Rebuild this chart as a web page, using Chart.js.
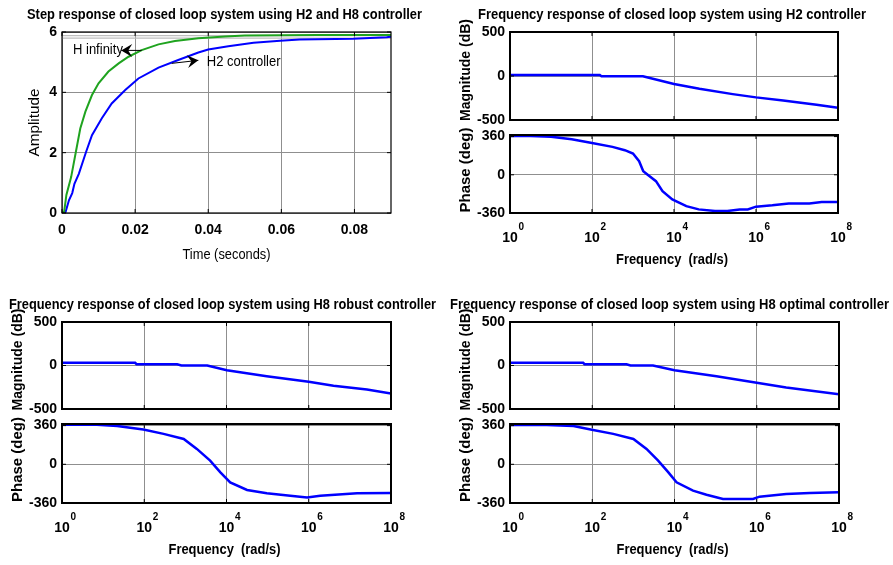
<!DOCTYPE html>
<html>
<head>
<meta charset="utf-8">
<script src="https://cdn.jsdelivr.net/npm/chart.js@4"></script>
<style>
  body { margin: 0; background: #fff; }
  #wrap { position: relative; width: 893px; height: 565px; }
  #wrap canvas { position: absolute; left: 0; top: 0; }
</style>
</head>
<body>
<div id="wrap">
  <canvas id="step" width="893" height="565"></canvas>
  <canvas id="h2Mag" width="893" height="565"></canvas>
  <canvas id="h2Ph" width="893" height="565"></canvas>
  <canvas id="rbMag" width="893" height="565"></canvas>
  <canvas id="rbPh" width="893" height="565"></canvas>
  <canvas id="opMag" width="893" height="565"></canvas>
  <canvas id="opPh" width="893" height="565"></canvas>
</div>
<script>
// step response data
var hinfT = [0, 0.0006, 0.0012, 0.0025, 0.0038, 0.005, 0.0064, 0.0082, 0.01, 0.0127, 0.0155, 0.0182, 0.0218, 0.0264, 0.0309, 0.0373, 0.0446, 0.05, 0.06, 0.07, 0.08, 0.09];
var hinfA = [0, 0.05, 0.6, 1.19, 2.03, 2.8, 3.36, 3.91, 4.3, 4.69, 4.96, 5.18, 5.4, 5.59, 5.7, 5.79, 5.85, 5.88, 5.89, 5.9, 5.9, 5.9];
var h2T = [0, 0.0009, 0.0019, 0.0028, 0.0034, 0.0046, 0.0066, 0.0082, 0.0109, 0.0136, 0.0173, 0.0209, 0.0264, 0.0318, 0.0373, 0.04, 0.0455, 0.0524, 0.0597, 0.065, 0.0797, 0.0888, 0.09];
var h2A = [0, 0, 0.42, 0.66, 0.97, 1.3, 2.03, 2.58, 3.14, 3.63, 4.08, 4.46, 4.82, 5.07, 5.32, 5.42, 5.53, 5.64, 5.71, 5.75, 5.78, 5.83, 5.84];
var steadyLevels = [5.88, 5.8];
var stepXTicks = [0, 0.02, 0.04, 0.06, 0.08];
var stepXLabels = ['0', '0.02', '0.04', '0.06', '0.08'];
var stepYTicks = [0, 2, 4, 6];

// bode data, H2
var h2MagFreq = [1, 155, 170, 1740, 10000, 41700, 270000, 1e6, 4.6e6, 3e7, 1e8];
var h2MagDb = [11, 11, -3, -3, -90, -145, -206, -243, -279, -326, -362];
var h2PhFreq = [1, 3.2, 10, 32, 100, 316, 631, 1000, 1410, 1780, 2240, 3630, 5250, 9100, 2e4, 4e4, 1e5, 2e5, 4e5, 6.3e5, 1e6, 2.5e6, 6.3e6, 2e7, 4e7, 1e8];
var h2PhDeg = [366, 366, 358, 335, 300, 263, 232, 200, 128, 34, 3, -60, -154, -232, -295, -326, -342, -342, -326, -326, -300, -288, -270, -270, -257, -257];

// H8 robust
var rbMagFreq = [1, 60, 65, 630, 800, 3400, 10200, 95000, 1e6, 4e6, 2.6e7, 1e8];
var rbMagDb = [31, 31, 15, 15, 0, 0, -54, -123, -188, -234, -276, -322];
var rbPhFreq = [1, 7, 22, 95, 295, 912, 1900, 4000, 7100, 12300, 31600, 95500, 355000, 912000, 1.9e6, 1.5e7, 1e8];
var rbPhDeg = [369, 369, 357, 323, 283, 236, 143, 34, -75, -168, -239, -270, -292, -308, -292, -270, -267];

// H8 optimal
var opMagFreq = [1, 60, 65, 680, 850, 3000, 10000, 105000, 1e6, 5.2e6, 1e8];
var opMagDb = [31, 31, 15, 15, 0, 0, -54, -123, -199, -253, -330];
var opPhFreq = [1, 7.8, 35, 105, 324, 1000, 2090, 4000, 7100, 11200, 28200, 60000, 151000, 813000, 1.17e6, 5.2e6, 1.95e7, 1e8];
var opPhDeg = [366, 366, 357, 320, 283, 236, 143, 34, -75, -168, -245, -283, -323, -323, -301, -276, -267, -261];

var freqTicks = [1, 1e2, 1e4, 1e6, 1e8];
var freqExps = ['0', '2', '4', '6', '8'];
var magTicks = [-500, 0, 500];
var phTicks = [-360, 0, 360];

// annotations in data units
var notes = [
  { text: 'H infinity', t: 0.003, v: 5.39, from: [0.0218, 5.39], to: [0.0162, 5.39] },
  { text: 'H2 controller', t: 0.0396, v: 5.0, from: [0.03, 4.96], to: [0.0373, 5.06] }
];

var FONT = '"Liberation Sans", Arial, sans-serif';
var BLUE = '#0000ff';
var GREEN = '#1fa31f';
var GRID = '#8f8f8f';

function pts(xs, ys) {
  return xs.map(function (x, i) { return { x: x, y: ys[i] }; });
}

function drawText(ctx, t, x, y, font, rot, w) {
  ctx.save();
  ctx.font = font;
  ctx.fillStyle = '#000';
  ctx.textAlign = 'center';
  ctx.textBaseline = 'middle';
  ctx.translate(x, y);
  if (rot) ctx.rotate(-Math.PI / 2);
  if (w) ctx.scale(w / ctx.measureText(t).width, 1);
  ctx.fillText(t, 0, 0);
  ctx.restore();
}

var framePlugin = {
  id: 'frame',
  afterDraw: function (chart, args, o) {
    var ctx = chart.ctx, a = chart.chartArea, sx = chart.scales.x, sy = chart.scales.y;
    ctx.save();
    ctx.strokeStyle = '#000';
    ctx.lineWidth = o.lw || 1.5;
    ctx.strokeRect(a.left, a.top, a.right - a.left, a.bottom - a.top);
    ctx.lineWidth = 1;
    ctx.beginPath();
    sx.ticks.forEach(function (t) {
      var p = sx.getPixelForValue(t.value);
      ctx.moveTo(p, a.bottom); ctx.lineTo(p, a.bottom - 4);
      ctx.moveTo(p, a.top); ctx.lineTo(p, a.top + 4);
    });
    sy.ticks.forEach(function (t) {
      var p = sy.getPixelForValue(t.value);
      ctx.moveTo(a.left, p); ctx.lineTo(a.left + 4, p);
      ctx.moveTo(a.right, p); ctx.lineTo(a.right - 4, p);
    });
    ctx.stroke();
    if (o.exps) {
      ctx.font = 'bold 10px ' + FONT;
      ctx.fillStyle = '#000';
      ctx.textAlign = 'left';
      ctx.textBaseline = 'middle';
      sx.ticks.forEach(function (t, i) {
        ctx.fillText(o.exps[i], sx.getPixelForValue(t.value) + 8.5, a.bottom + 14);
      });
    }
    if (o.notes) {
      ctx.strokeStyle = '#000';
      ctx.fillStyle = '#000';
      o.notes.forEach(function (n) {
        ctx.font = '14px ' + FONT;
        ctx.textAlign = 'left';
        ctx.textBaseline = 'middle';
        ctx.save();
        ctx.translate(sx.getPixelForValue(n.t), sy.getPixelForValue(n.v));
        ctx.scale(0.93, 1);
        ctx.fillText(n.text, 0, 0);
        ctx.restore();
        var x1 = sx.getPixelForValue(n.from[0]), y1 = sy.getPixelForValue(n.from[1]);
        var x2 = sx.getPixelForValue(n.to[0]), y2 = sy.getPixelForValue(n.to[1]);
        var ang = Math.atan2(y2 - y1, x2 - x1);
        var c = Math.cos(ang), s = Math.sin(ang);
        ctx.lineWidth = 1;
        ctx.beginPath();
        ctx.moveTo(x1, y1); ctx.lineTo(x2, y2);
        ctx.stroke();
        ctx.beginPath();
        ctx.moveTo(x2, y2);
        ctx.lineTo(x2 - 11 * c + 6.5 * s, y2 - 11 * s - 6.5 * c);
        ctx.lineTo(x2 - 7 * c, y2 - 7 * s);
        ctx.lineTo(x2 - 11 * c - 6.5 * s, y2 - 11 * s + 6.5 * c);
        ctx.closePath();
        ctx.fill();
      });
    }
    if (o.texts) {
      o.texts(a).forEach(function (t) { drawText(ctx, t[0], t[1], t[2], t[3], t[4], t[5]); });
    }
    ctx.restore();
  }
};

function makeChart(id, area, cfg) {
  var wy = 40, hx = cfg.showX ? 40 : 0;
  var tickFont = { family: FONT, size: 14, weight: 'bold' };
  return new Chart(document.getElementById(id), {
    type: 'line',
    data: { datasets: cfg.datasets },
    plugins: [framePlugin],
    options: {
      responsive: false,
      animation: false,
      events: [],
      layout: { padding: { left: area[0] - wy, top: area[1], right: 893 - area[2], bottom: 565 - area[3] - hx } },
      elements: { point: { radius: 0 }, line: { tension: 0 } },
      plugins: {
        legend: { display: false },
        tooltip: { enabled: false },
        frame: { lw: cfg.lw, exps: cfg.exps, notes: cfg.notes, texts: cfg.texts }
      },
      scales: {
        x: {
          type: cfg.xType, min: cfg.xMin, max: cfg.xMax,
          afterBuildTicks: function (s) { s.ticks = cfg.xTicks.map(function (v) { return { value: v }; }); },
          afterFit: function (s) { s.height = hx; },
          grid: { color: GRID, lineWidth: 1, drawTicks: false },
          border: { display: false },
          ticks: {
            display: !!cfg.showX, color: '#000', font: tickFont, padding: cfg.xPad || 10,
            maxRotation: 0, autoSkip: false,
            callback: function (v, i) { return cfg.xLabels[i]; }
          }
        },
        y: {
          type: 'linear', min: cfg.yMin, max: cfg.yMax,
          afterBuildTicks: function (s) { s.ticks = cfg.yTicks.map(function (v) { return { value: v }; }); },
          afterFit: function (s) { s.width = wy; },
          grid: { color: GRID, lineWidth: 1, drawTicks: false },
          border: { display: false },
          ticks: { color: '#000', font: tickFont, padding: 5, callback: function (v) { return String(v); } }
        }
      }
    }
  });
}

function line(data, color, w) {
  return { data: data, borderColor: color, borderWidth: w, fill: false, pointRadius: 0 };
}

var titleFont = 'bold 14px ' + FONT;
var labFont = 'bold 15px ' + FONT;
var freqLabels = ['10', '10', '10', '10', '10'];

// step response
makeChart('step', [62, 32, 391, 213], {
  xType: 'linear', xMin: 0, xMax: 0.09, xTicks: stepXTicks, xLabels: stepXLabels, showX: true, xPad: 9,
  yMin: 0, yMax: 6, yTicks: stepYTicks, lw: 1.2, notes: notes,
  datasets: [
    line(pts(hinfT, hinfA), GREEN, 2),
    line(pts(h2T, h2A), BLUE, 2),
    line([{ x: 0, y: steadyLevels[0] }, { x: 0.09, y: steadyLevels[0] }], '#bdbdbd', 1.2),
    line([{ x: 0, y: steadyLevels[1] }, { x: 0.09, y: steadyLevels[1] }], '#bdbdbd', 1.2)
  ],
  texts: function (a) {
    var cx = (a.left + a.right) / 2;
    return [
      ['Step response of closed loop system using H2 and H8 controller', cx - 2, a.top - 17, titleFont, false, 395],
      ['Time (seconds)', cx, a.bottom + 42, '14px ' + FONT, false, 88],
      ['Amplitude', a.left - 27, (a.top + a.bottom) / 2, '14px ' + FONT, true, 68]
    ];
  }
});

function bode(magId, phId, magArea, phArea, magF, magV, phF, phV, title, titleW, titleDx) {
  makeChart(magId, magArea, {
    xType: 'logarithmic', xMin: 1, xMax: 1e8, xTicks: freqTicks, xLabels: freqLabels, showX: false,
    yMin: -500, yMax: 500, yTicks: magTicks, lw: 2,
    datasets: [line(pts(magF, magV), BLUE, 2.5)],
    texts: function (a) {
      var cx = (a.left + a.right) / 2;
      return [
        [title, cx + titleDx, a.top - 17, titleFont, false, titleW],
        ['Magnitude (dB)', a.left - 44, (a.top + a.bottom) / 2 - 6, labFont, true, 102]
      ];
    }
  });
  makeChart(phId, phArea, {
    xType: 'logarithmic', xMin: 1, xMax: 1e8, xTicks: freqTicks, xLabels: freqLabels, showX: true, xPad: 17,
    yMin: -360, yMax: 375, yTicks: phTicks, lw: 2, exps: freqExps,
    datasets: [line(pts(phF, phV), BLUE, 2.5)],
    texts: function (a) {
      var cx = (a.left + a.right) / 2;
      return [
        ['Frequency  (rad/s)', cx - 2, a.bottom + 47, labFont, false, 112],
        ['Phase (deg)', a.left - 44, (a.top + a.bottom) / 2 - 4, labFont, true]
      ];
    }
  });
}

bode('h2Mag', 'h2Ph', [510, 32, 838, 120], [510, 135, 838, 213], h2MagFreq, h2MagDb, h2PhFreq, h2PhDeg,
  'Frequency response of closed loop system using H2 controller', 388, -2);
bode('rbMag', 'rbPh', [62, 322, 391, 409], [62, 424, 391, 503], rbMagFreq, rbMagDb, rbPhFreq, rbPhDeg,
  'Frequency response of closed loop system using H8 robust controller', 427, -4);
bode('opMag', 'opPh', [510, 322, 839, 409], [510, 424, 839, 503], opMagFreq, opMagDb, opPhFreq, opPhDeg,
  'Frequency response of closed loop system using H8 optimal controller', 439, -5);
</script>
</body>
</html>
